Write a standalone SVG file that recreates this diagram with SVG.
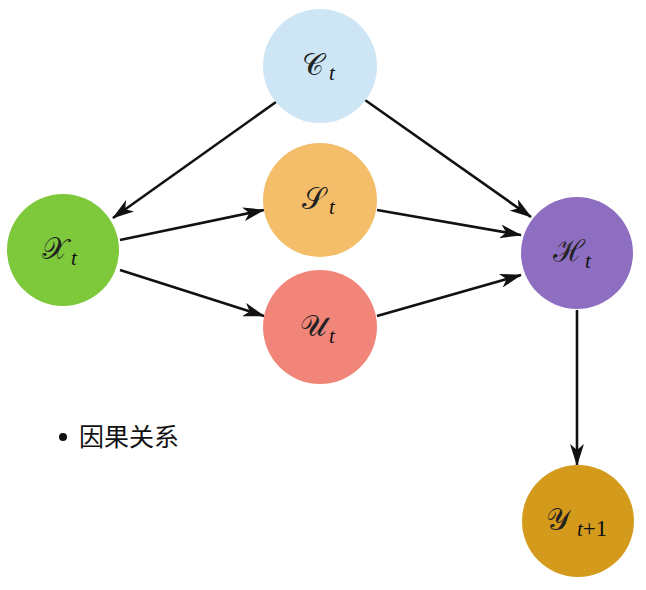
<svg xmlns="http://www.w3.org/2000/svg" width="646" height="590" viewBox="0 0 646 590">
<style>
.lbl{font-family:"DejaVu Serif","Liberation Serif","Noto Sans",serif;font-size:30px;font-weight:normal;fill:#222;}
.sub{font-family:"Liberation Serif",serif;font-style:italic;font-size:21px;fill:#111;}
.subn{font-family:"Liberation Serif",serif;font-size:23px;fill:#111;}
.edge{stroke:#111;stroke-width:2.6;fill:none;marker-end:url(#ah);}
.leg{font-family:"Noto Sans CJK SC","Noto Sans",sans-serif;font-size:25px;fill:#111;}
</style>
<defs>
<marker id="ah" markerUnits="userSpaceOnUse" viewBox="0 0 22 14" refX="21" refY="7" markerWidth="22" markerHeight="14" orient="auto">
<path d="M0,0 L22,7 L0,14 L6,7 Z" fill="#111"/>
</marker>
</defs>
<rect width="646" height="590" fill="#fff"/>
<g id="connectors">
<line class="edge" x1="276" y1="102" x2="113" y2="218"/>
<line class="edge" x1="365" y1="100" x2="531" y2="217"/>
<line class="edge" x1="120" y1="240" x2="264" y2="210"/>
<line class="edge" x1="120" y1="270" x2="264" y2="316"/>
<line class="edge" x1="377" y1="210" x2="521" y2="235"/>
<line class="edge" x1="377" y1="316" x2="521" y2="275"/>
<line class="edge" x1="577" y1="310" x2="577" y2="465"/>
</g>
<g id="node-C">
<circle cx="320" cy="66" r="57" fill="#cde5f4"/>
<text class="lbl" x="313" y="75" text-anchor="middle">𝒞</text>
<text class="sub" x="329" y="80">t</text>
</g>
<g id="node-S">
<circle cx="320" cy="200" r="57" fill="#f4bd69"/>
<text class="lbl" x="313" y="209" text-anchor="middle">𝒮</text>
<text class="sub" x="329" y="214">t</text>
</g>
<g id="node-U">
<circle cx="320" cy="327" r="57" fill="#f2857a"/>
<text class="lbl" x="313" y="336" text-anchor="middle">𝒰</text>
<text class="sub" x="329" y="343">t</text>
</g>
<g id="node-X">
<circle cx="63" cy="250" r="56" fill="#7dc83b"/>
<text class="lbl" x="55" y="259" text-anchor="middle">𝒳</text>
<text class="sub" x="71" y="265">t</text>
</g>
<g id="node-H">
<circle cx="577" cy="253" r="56" fill="#8e6ec0"/>
<text class="lbl" x="569" y="261" text-anchor="middle">ℋ</text>
<text class="sub" x="585" y="268">t</text>
</g>
<g id="node-Y">
<circle cx="578" cy="521" r="56" fill="#d39a1b"/>
<text class="lbl" x="558" y="530" text-anchor="middle">𝒴</text>
<text x="577" y="536"><tspan class="sub" font-size="23">t</tspan><tspan class="subn">+1</tspan></text>
</g>
<g id="legend">
<circle cx="63" cy="437" r="4" fill="#111"/>
<text class="leg" x="79" y="446">因果关系</text>
</g>
</svg>
